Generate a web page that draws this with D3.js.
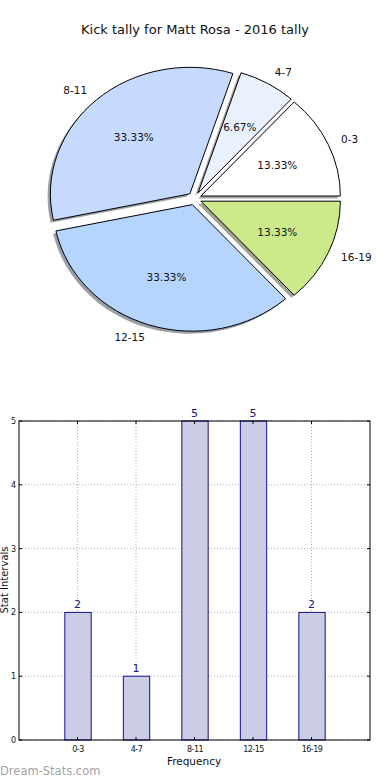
<!DOCTYPE html>
<html>
<head>
<meta charset="utf-8">
<script src="https://cdn.jsdelivr.net/npm/d3@7"></script>
<style>
  html, body { margin: 0; padding: 0; background: #fff; }
  svg { display: block; font-family: "DejaVu Sans", sans-serif; }
</style>
</head>
<body>
<svg id="chart" width="390" height="780"></svg>
<script>
const categories = ["0-3", "4-7", "8-11", "12-15", "16-19"];
const counts = [2, 1, 5, 5, 2];
const pieColors = ["#ffffff", "#eaf1fe", "#c6d9fe", "#b5d5ff", "#cdea8b"];
const yTicks = [0, 1, 2, 3, 4, 5];
const titleText = "Kick tally for Matt Rosa - 2016 tally";

(function () {
const svg = d3.select("#chart");

// ---------- Title ----------
svg.append("text").attr("x", 195).attr("y", 34).attr("text-anchor", "middle")
  .attr("font-size", 13).attr("fill", "#111").text(titleText);

// ---------- Pie ----------
const cx = 194.5, cy = 198.6, rx = 139.5, ry = 126.6, explode = 0.05;
const pie = d3.pie().sort(null).value(d => d).startAngle(Math.PI / 2).endAngle(Math.PI / 2 - 2 * Math.PI);
const arcs = pie(counts);
const unitArc = d3.arc().innerRadius(0).outerRadius(1);
const total = d3.sum(counts);
const pg = svg.append("g");

function offset(a, k) { return [cx + k * rx * Math.sin(a), cy - k * ry * Math.cos(a)]; }

// shadows
arcs.forEach((d, i) => {
  const m = (d.startAngle + d.endAngle) / 2;
  const [ox, oy] = offset(m, explode);
  const c = d3.rgb(pieColors[i]);
  pg.append("path").attr("d", unitArc(d))
    .attr("transform", `translate(${ox - 0.02 * rx},${oy + 0.02 * ry}) scale(${rx},${ry})`)
    .attr("fill", d3.rgb(c.r * 0.3, c.g * 0.3, c.b * 0.3)).attr("fill-opacity", 0.5);
});
// wedges
arcs.forEach((d, i) => {
  const m = (d.startAngle + d.endAngle) / 2;
  const [ox, oy] = offset(m, explode);
  pg.append("path").attr("d", unitArc(d))
    .attr("transform", `translate(${ox},${oy}) scale(${rx},${ry})`)
    .attr("fill", pieColors[i]).attr("stroke", "#000").attr("stroke-width", 1)
    .attr("vector-effect", "non-scaling-stroke").attr("stroke-linejoin", "round");
});
// labels
arcs.forEach((d, i) => {
  const m = (d.startAngle + d.endAngle) / 2;
  const [lx, ly] = offset(m, explode + 1.1);
  pg.append("text").attr("x", lx).attr("y", ly).attr("dy", "0.35em")
    .attr("text-anchor", Math.sin(m) > 0 ? "start" : "end")
    .attr("font-size", 10.5).attr("fill", "#111").text(categories[i]);
  const [px, py] = offset(m, explode + 0.6);
  pg.append("text").attr("x", px).attr("y", py).attr("dy", "0.35em")
    .attr("text-anchor", "middle").attr("font-size", 10.5).attr("fill", "#111")
    .text((counts[i] / total * 100).toFixed(2) + "%");
});

// ---------- Bar chart ----------
const pLeft = 19, pRight = 370, pTop = 421, pBottom = 740;
const x = d3.scaleLinear().domain([-1, 5]).range([pLeft, pRight]);
const y = d3.scaleLinear().domain([0, 5]).range([pBottom, pTop]);
const bw = 0.45;
const bg = svg.append("g");

// grid
bg.selectAll(".hg").data(yTicks).enter().append("line")
  .attr("x1", pLeft).attr("x2", pRight).attr("y1", d => y(d)).attr("y2", d => y(d))
  .attr("stroke", "#b0b0b0").attr("stroke-dasharray", "1,2").attr("stroke-width", 1);
bg.selectAll(".vg").data(categories).enter().append("line")
  .attr("x1", (d, i) => x(i)).attr("x2", (d, i) => x(i)).attr("y1", pTop).attr("y2", pBottom)
  .attr("stroke", "#b0b0b0").attr("stroke-dasharray", "1,2").attr("stroke-width", 1);

// bars
bg.selectAll(".bar").data(counts).enter().append("rect")
  .attr("x", (d, i) => x(i - bw / 2) + 0.5).attr("width", (d, i) => x(i + bw / 2) - x(i - bw / 2))
  .attr("y", d => y(d)).attr("height", d => y(0) - y(d))
  .attr("fill", "#cbcce5").attr("stroke", "#10108a").attr("stroke-width", 1);

// value labels
bg.selectAll(".val").data(counts).enter().append("text")
  .attr("x", (d, i) => x(i)).attr("y", d => y(d) - 4).attr("text-anchor", "middle")
  .attr("font-size", 11).attr("fill", "#1a1a80").text(d => d);

// frame
bg.append("rect").attr("x", pLeft).attr("y", pTop).attr("width", pRight - pLeft).attr("height", pBottom - pTop)
  .attr("fill", "none").attr("stroke", "#000").attr("stroke-width", 1);

// axes
const yAxis = d3.axisLeft(y).tickValues(yTicks).tickSize(0).tickPadding(3).tickFormat(d3.format("d"));
const ya = bg.append("g").attr("transform", `translate(${pLeft},0)`).call(yAxis);
ya.select(".domain").remove();
ya.selectAll("text").attr("font-size", 8).attr("font-family", "DejaVu Sans, sans-serif").attr("fill", "#111");

const xb = d3.scaleOrdinal().domain(categories).range(categories.map((c, i) => x(i)));
const xAxis = d3.axisBottom(xb).tickSize(0).tickPadding(6);
const xa = bg.append("g").attr("transform", `translate(0,${pBottom})`).call(xAxis);
xa.select(".domain").remove();
xa.selectAll("text").attr("font-size", 8).attr("font-family", "DejaVu Sans, sans-serif").attr("fill", "#111")
  .attr("letter-spacing", "-0.5");

// inward ticks
categories.forEach((c, i) => {
  bg.append("line").attr("x1", x(i)).attr("x2", x(i)).attr("y1", pBottom).attr("y2", pBottom - 3).attr("stroke", "#000");
  bg.append("line").attr("x1", x(i)).attr("x2", x(i)).attr("y1", pTop).attr("y2", pTop + 3).attr("stroke", "#000");
});
yTicks.forEach(t => {
  bg.append("line").attr("x1", pLeft).attr("x2", pLeft + 3).attr("y1", y(t)).attr("y2", y(t)).attr("stroke", "#000");
  bg.append("line").attr("x1", pRight).attr("x2", pRight - 3).attr("y1", y(t)).attr("y2", y(t)).attr("stroke", "#000");
});

// axis labels
svg.append("text").attr("x", 194).attr("y", 765).attr("text-anchor", "middle")
  .attr("font-size", 10.5).attr("fill", "#111").text("Frequency");
svg.append("text").attr("transform", "translate(8,580) rotate(-90)").attr("text-anchor", "middle")
  .attr("font-size", 10).attr("fill", "#111").text("Stat Intervals");

// watermark
svg.append("text").attr("x", 0).attr("y", 775).attr("font-size", 11.5)
  .attr("fill", "#a3a3a3").text("Dream-Stats.com");
})();
</script>
</body>
</html>
